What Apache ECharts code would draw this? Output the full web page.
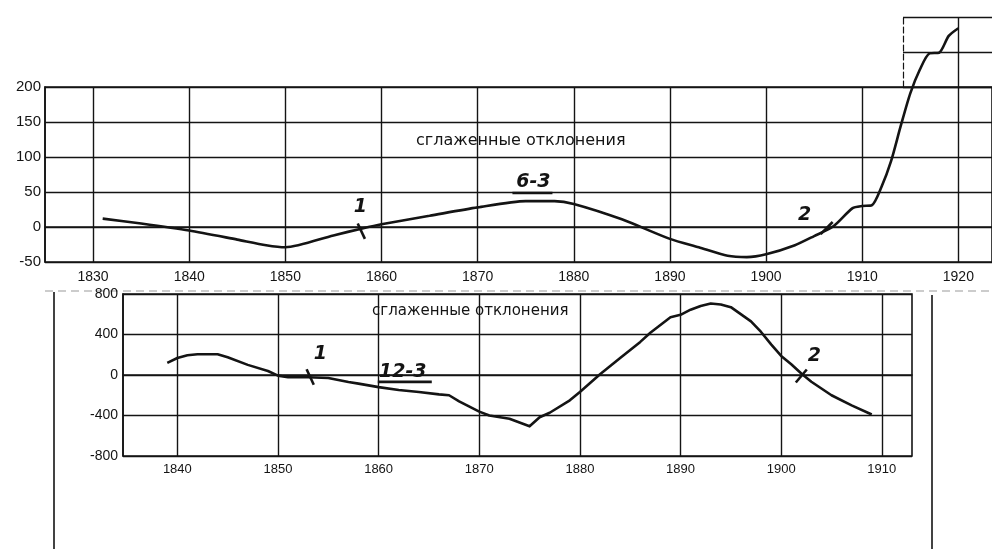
<!DOCTYPE html>
<html>
<head>
<meta charset="utf-8">
<style>
html,body{margin:0;padding:0;background:#fff;}
#chart{width:992px;height:549px;}
</style>
<script src="https://cdn.jsdelivr.net/npm/echarts@6/dist/echarts.min.js"></script>
</head>
<body>
<div id="chart"></div>
<script>
// ---- Top chart data ----
const topYears  = [1831,1835,1840,1845,1848,1850,1855,1858,1860,1865,1870,1875,1878,1880,1885,1890,1893,1896,1898,1900,1903,1905,1907,1909,1910,1911,1912,1913,1914,1915,1916,1917,1918,1919,1920];
const topValues = [12,5,-5,-18,-26,-29,-12,-2,4,16,28,37,37,33,11,-17,-29,-41,-43,-39,-26,-13,1,27,30,31,57,94,144,191,225,248,249,273,284];
const topXTicks = [1830,1840,1850,1860,1870,1880,1890,1900,1910,1920];
const topTitle  = 'сглаженные отклонения';

// ---- Bottom chart data ----
const bottomYears  = [1839,1840,1841,1842,1844,1845,1847,1849,1850,1851,1853,1855,1857,1858,1860,1862,1864,1866,1867,1868,1870,1871,1873,1875,1876,1877,1879,1880,1882,1884,1886,1887,1889,1890,1891,1892,1893,1894,1895,1897,1898,1899,1900,1901,1902,1903,1905,1907,1909];
const bottomValues = [120,168,195,205,205,175,100,40,-6,-22,-22,-30,-70,-85,-120,-148,-168,-191,-200,-260,-362,-400,-433,-507,-417,-373,-250,-167,7,167,327,418,570,594,645,682,706,697,670,530,425,303,188,106,15,-67,-200,-300,-390];
const bottomXTicks = [1840,1850,1860,1870,1880,1890,1900,1910];
const bottomTitle  = 'сглаженные отклонения';

// ---- Hand-written annotations (data coordinates) ----
const topNotes    = [{t:'1', x:1857.8, y:29}, {t:'6-3', x:1875.8, y:64}, {t:'2', x:1904.0, y:17}];
const topStrokes  = [{x:1857.9, y:-6, r:25}, {x:1875.7, y:48.5, r:90, len:40}, {x:1906.3, y:-1.5, r:-45}];
const botNotes    = [{t:'1', x:1854.2, y:205}, {t:'12-3', x:1862.4, y:30}, {t:'2', x:1903.3, y:185}];
const botStrokes  = [{x:1853.2, y:-20, r:25}, {x:1862.6, y:-68, r:90, len:54}, {x:1902.0, y:-10, r:-40}];

const INK = '#141414';
const FONT = 'Liberation Sans';
const plain = v => String(v);

function notePoints(notes, strokes){
  const pts = [];
  notes.forEach(n => pts.push({
    coord:[n.x, n.y], symbol:'circle', symbolSize:1,
    itemStyle:{color:'rgba(0,0,0,0)'},
    label:{show:true, position:'inside', formatter:n.t, color:INK,
      fontSize:19, fontWeight:'bold', fontStyle:'italic', fontFamily:'DejaVu Sans'}
  }));
  strokes.forEach(s => pts.push({
    coord:[s.x, s.y], symbol:'rect', symbolSize:[2.6, s.len || 17], symbolRotate:s.r,
    itemStyle:{color:INK}, label:{show:false}
  }));
  return pts;
}

const chart = echarts.init(document.getElementById('chart'), null, {renderer:'canvas'});
const splitStyle = {show:true, lineStyle:{color:INK, width:1.4}};
const axisLineStyle = {show:true, lineStyle:{color:INK, width:1.6}};

chart.setOption({
  animation:false,
  backgroundColor:'#fff',
  title:[
    {text:topTitle, left:411, top:128, textStyle:{fontSize:16, fontWeight:'normal', color:INK, fontFamily:'DejaVu Sans'}},
    {text:bottomTitle, left:367, top:299, textStyle:{fontSize:15, fontWeight:'normal', color:INK, fontFamily:'DejaVu Sans'}}
  ],
  grid:[
    {left:45, top:87, width:947, height:175, show:true, borderColor:INK, borderWidth:1.6, containLabel:false},
    {left:903, top:17, width:89, height:70, show:false},
    {left:123, top:294, width:789, height:162, show:true, borderColor:INK, borderWidth:1.6}
  ],
  xAxis:[
    {type:'value', gridIndex:0, min:1825, max:1923.5,
      axisLine:axisLineStyle, axisTick:{show:false, customValues:topXTicks},
      axisLabel:{customValues:topXTicks, formatter:plain, fontSize:14, color:INK, margin:8, fontFamily:FONT},
      splitLine:splitStyle},
    {type:'value', gridIndex:1, min:1914.25, max:1923.5,
      axisLine:{show:false}, axisTick:{show:false, customValues:[1920]},
      axisLabel:{show:false}, splitLine:splitStyle},
    {type:'value', gridIndex:2, min:1834.6, max:1913,
      axisLine:axisLineStyle, axisTick:{show:false, customValues:bottomXTicks},
      axisLabel:{customValues:bottomXTicks, formatter:plain, fontSize:13, color:INK, margin:7, fontFamily:FONT},
      splitLine:splitStyle}
  ],
  yAxis:[
    {type:'value', gridIndex:0, min:-50, max:200, interval:50,
      axisLine:axisLineStyle, axisTick:{show:false},
      axisLabel:{fontSize:15, color:INK, margin:4, fontFamily:FONT},
      splitLine:splitStyle},
    {type:'value', gridIndex:1, min:200, max:300, interval:50,
      axisLine:{show:true, lineStyle:{color:INK, width:1.2, type:[6,3]}}, axisTick:{show:false},
      axisLabel:{show:false}, splitLine:splitStyle},
    {type:'value', gridIndex:2, min:-800, max:800, interval:400,
      axisLine:axisLineStyle, axisTick:{show:false},
      axisLabel:{fontSize:14, color:INK, margin:5, fontFamily:FONT},
      splitLine:splitStyle}
  ],
  series:[
    {type:'line', xAxisIndex:0, yAxisIndex:0, clip:false, showSymbol:false, smooth:0.25,
      data:topYears.map((y,i)=>[y, topValues[i]]),
      lineStyle:{color:INK, width:2.6},
      markPoint:{silent:true, data:notePoints(topNotes, topStrokes)}},
    {type:'line', xAxisIndex:2, yAxisIndex:2, showSymbol:false, smooth:false,
      data:bottomYears.map((y,i)=>[y, bottomValues[i]]),
      lineStyle:{color:INK, width:2.6, join:'round'},
      markPoint:{silent:true, data:notePoints(botNotes, botStrokes)}}
  ],
  graphic:[
    {type:'line', shape:{x1:45, y1:291, x2:992, y2:291}, style:{stroke:'#999', lineWidth:1, lineDash:[8,5]}, silent:true},
    {type:'line', shape:{x1:54, y1:292, x2:54, y2:549}, style:{stroke:INK, lineWidth:1.6}, silent:true},
    {type:'line', shape:{x1:932, y1:295, x2:932, y2:549}, style:{stroke:INK, lineWidth:1.6}, silent:true}
  ]
});
</script>
</body>
</html>
